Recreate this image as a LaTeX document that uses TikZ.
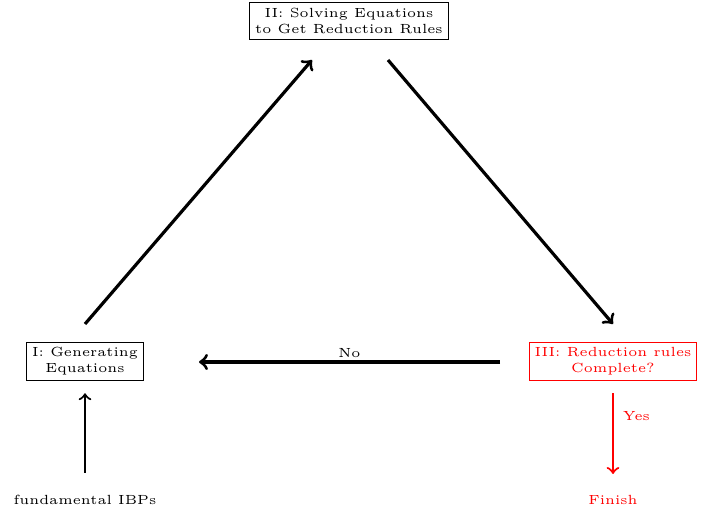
\documentclass[tikz,border=0pt]{standalone}
\usepackage{xcolor}
\usepackage{tikz}

\begin{document}
\begin{tikzpicture}[
  x=0.377pt, y=-0.377pt,
  stage/.style={draw, thin, font=\tiny, align=center, inner xsep=2pt, inner ysep=2pt},
  lbl/.style={font=\tiny},
  arr/.style={->, very thick},
  sarr/.style={->, thick}
]
  \useasboundingbox (0,0) rectangle (716,514);
  \node[stage]           (gen)   at (85,361.5)  {I: Generating\\Equations};
  \node[stage]           (solve) at (349,21)    {II: Solving Equations\\to Get Reduction Rules};
  \node[stage, red]      (check) at (613,361.5) {III: Reduction rules\\Complete?};
  \node[lbl]             (ibp)   at (85,500)    {fundamental IBPs};
  \node[lbl, red]        (fin)   at (613,500)   {Finish};
  \coordinate (genup)    at (85,324);
  \coordinate (solvein)  at (312,60);
  \coordinate (solveout) at (388,60);
  \coordinate (checkin)  at (613,324);
  \coordinate (checkout) at (500,362);
  \coordinate (genin)    at (199,362);
  \draw[arr] (genup) -- (solvein);
  \draw[arr] (solveout) -- (checkin);
  \draw[arr] (checkout) -- node[above, lbl, inner sep=1pt]{No} (genin);
  \draw[sarr, shorten <=13*0.377pt, shorten >=12*0.377pt] (ibp) -- (gen);
  \draw[sarr, red, shorten <=12*0.377pt, shorten >=12*0.377pt]
    (check) -- node[right, lbl, pos=0.33]{Yes} (fin);
\end{tikzpicture}
\end{document}
